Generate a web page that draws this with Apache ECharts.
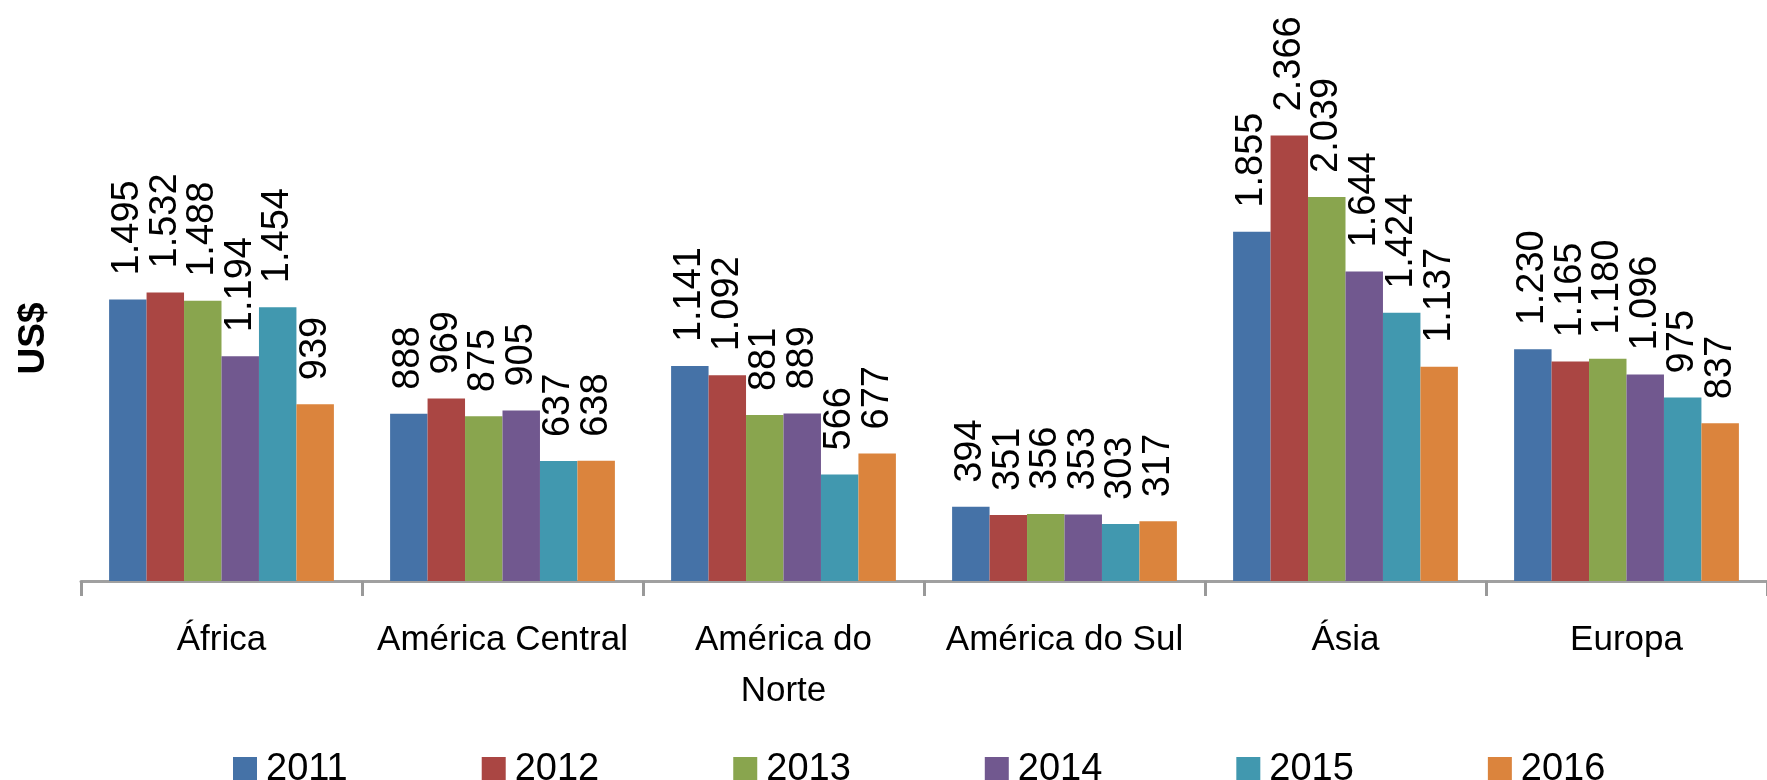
<!DOCTYPE html>
<html>
<head>
<meta charset="utf-8">
<title>US$ por região</title>
<script src="https://cdn.jsdelivr.net/npm/echarts@6/dist/echarts.min.js"></script>
<style>
    html, body { margin: 0; padding: 0; background: #fff; }
    #chart { width: 1767px; height: 780px; }
</style>
</head>
<body>
<div id="chart"></div>
<script>
var regioes = ['África', 'América Central', 'América do Norte', 'América do Sul', 'Ásia', 'Europa'];
var anos = ['2011', '2012', '2013', '2014', '2015', '2016'];

var v2011 = [1495, 888, 1141, 394, 1855, 1230];
var v2012 = [1532, 969, 1092, 351, 2366, 1165];
var v2013 = [1488, 875, 881, 356, 2039, 1180];
var v2014 = [1194, 905, 889, 353, 1644, 1096];
var v2015 = [1454, 637, 566, 303, 1424, 975];
var v2016 = [939, 638, 677, 317, 1137, 837];

var cores = ['#4572A7', '#AA4643', '#89A54E', '#71588F', '#4198AF', '#DB843D'];

var fonte = '"Liberation Sans", Arial, sans-serif';

// separador de milhar com ponto
function milhar(v) {
    return String(v).replace(/\B(?=(\d{3})+(?!\d))/g, '.');
}

var valores = [v2011, v2012, v2013, v2014, v2015, v2016];
var series = [];
valores.forEach(function (dados, i) {
    series.push({
        name: anos[i],
        type: 'bar',
        data: dados,
        barGap: '0%',
        barCategoryGap: '20%',
        itemStyle: { color: cores[i] },
        label: {
            show: true,
            position: 'top',
            rotate: 90,
            align: 'left',
            verticalAlign: 'middle',
            distance: 24,
            color: '#000',
            fontFamily: fonte,
            fontSize: 38,
            formatter: function (p) { return milhar(p.value); }
        }
    });
});

var myChart = echarts.init(document.getElementById('chart'));

var option = {
    animation: false,
    color: cores,
    grid: {
        left: 81,
        top: 16,
        bottom: 199,
        width: 1692
    },
    legend: {
        data: anos,
        left: 228,
        top: 746,
        itemWidth: 24,
        itemHeight: 26,
        itemGap: 134,
        icon: 'rect',
        textStyle: {
            fontFamily: fonte,
            fontSize: 38,
            color: '#000',
            padding: [0, 0, 0, 4]
        }
    },
    xAxis: {
        type: 'category',
        data: regioes,
        axisLine: { lineStyle: { color: '#a0a0a0', width: 3 } },
        axisTick: { show: true, length: 15, lineStyle: { color: '#999999', width: 3 } },
        axisLabel: {
            margin: 34,
            color: '#000',
            fontFamily: fonte,
            fontSize: 35,
            lineHeight: 51,
            interval: 0,
            formatter: function (v) { return v.replace('América do Norte', 'América do\nNorte'); }
        }
    },
    yAxis: {
        type: 'value',
        min: 0,
        max: 3000,
        name: 'US$',
        nameLocation: 'middle',
        nameRotate: 90,
        nameGap: 29,
        nameTextStyle: {
            fontFamily: fonte,
            fontSize: 37,
            fontWeight: 'bold',
            color: '#000',
            padding: [0, 80, 0, 0]
        },
        axisLine: { show: false },
        axisTick: { show: false },
        axisLabel: { show: false },
        splitLine: { show: false }
    },
    series: series
};

myChart.setOption(option);
window.addEventListener('resize', function () {
    myChart.resize();
});
</script>
</body>
</html>
